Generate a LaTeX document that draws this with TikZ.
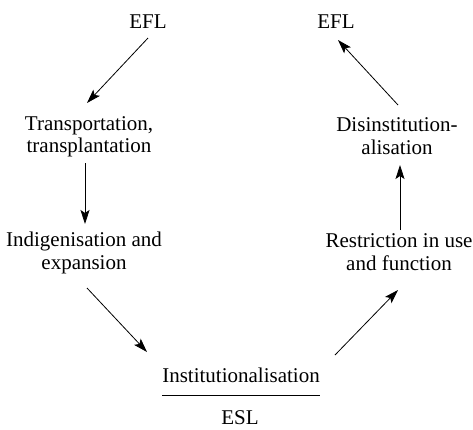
\documentclass[tikz,border=0pt]{standalone}
\usepackage{fontspec}
\setmainfont{Liberation Serif}
\usetikzlibrary{arrows.meta}
\begin{document}
\begin{tikzpicture}[x=1pt,y=-1pt,
  lbl/.style={inner sep=0pt,align=center,font=\fontsize{21}{22.5}\selectfont},
  arr/.style={line width=0.8pt,-{Stealth[length=14pt,width=9pt,inset=3pt]}}]
\useasboundingbox (0,0) rectangle (473,429);
\node[lbl] (e1) at (148,22) {EFL};
\node[lbl] (e2) at (336,22) {EFL};
\node[lbl] (t) at (89,137) {Transportation,\\transplantation};
\node[lbl] (ind) at (84,253) {Indigenisation and\\expansion};
\node[lbl] (inst) at (241,375) {Institutionalisation};
\node[lbl] (esl) at (240,418) {ESL};
\node[lbl] (res) at (399,252) {Restriction in use\\and function};
\node[lbl] (dis) at (397,136) {Disinstitution-\\alisation};
\draw[line width=0.8pt] ([xshift=-79pt,yshift=-20pt]inst.center) -- ([xshift=79pt,yshift=-20pt]inst.center);
\draw[arr] ([yshift=-16pt]e1.center) -- ([xshift=-2pt,yshift=34pt]t.center);
\draw[arr] ([xshift=-4pt,yshift=-26pt]t.center) -- ([xshift=1pt,yshift=29pt]ind.center);
\draw[arr] ([xshift=3pt,yshift=-35pt]ind.center) -- ([xshift=-94pt,yshift=23pt]inst.center);
\draw[arr] ([xshift=94pt,yshift=20pt]inst.center) -- ([xshift=-1pt,yshift=-38pt]res.center);
\draw[arr] ([xshift=1pt,yshift=22pt]res.center) -- ([xshift=3pt,yshift=-29pt]dis.center);
\draw[arr] ([xshift=1pt,yshift=31pt]dis.center) -- ([xshift=2pt,yshift=-18pt]e2.center);
\end{tikzpicture}
\end{document}
